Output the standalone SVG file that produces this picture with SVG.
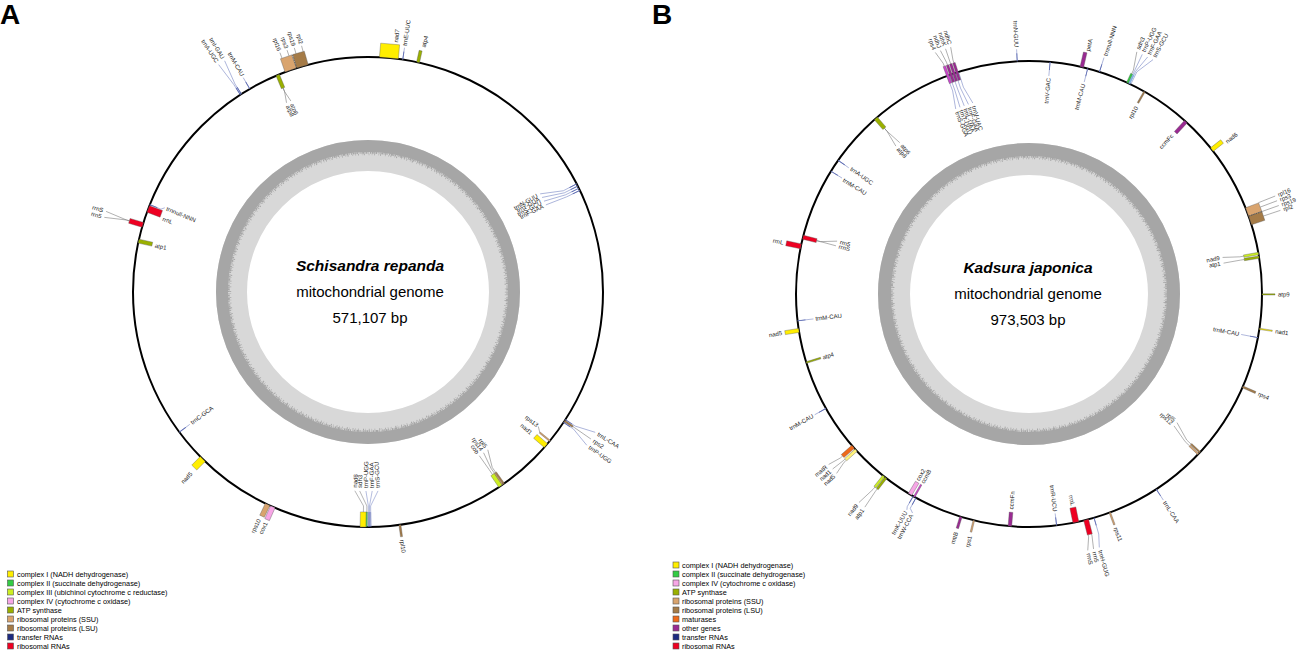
<svg xmlns="http://www.w3.org/2000/svg" width="1304" height="653" viewBox="0 0 1304 653">
<style>
.t{font-family:"Liberation Sans",Arial,sans-serif;font-size:6px;fill:#222;dominant-baseline:central}
.s{text-anchor:start}.e{text-anchor:end}
.ld{fill:none;stroke:#6f6f6f;stroke-width:0.5}
.lt{fill:none;stroke:#7886c4;stroke-width:0.55}
.c1,.c2,.c3,.c4,.atp,.ssu,.lsu,.mat,.oth,.mag,.rrna,.pal{stroke:#555;stroke-width:0.35}
.c1{fill:#ffee00}.c2{fill:#33cc44}.c3{fill:#ccee22}.c4{fill:#f7a6e6}.atp{fill:#9ab000}.ssu{fill:#d9a46e}.lsu{fill:#a57b47}.mat{fill:#ee6a1a}.oth{fill:#9a2a92}.mag{fill:#cc44cc}.trna{fill:#5a68b0;stroke:none}.rrna{fill:#ee0022}.pal{fill:#fff27a}
.dash{fill:none;stroke:#333;stroke-width:0.5;stroke-dasharray:1.5 1}
.ring{fill:none;stroke:#000;stroke-width:2}
.lg{fill:none;stroke:#d8d8d8}
.dg{fill:none;stroke:#a6a6a6}
.ctr{font-family:"Liberation Sans",Arial,sans-serif;font-size:15px;fill:#000;text-anchor:middle}
.sp{font-weight:bold;font-style:italic;font-size:15.5px}
.leg{font-family:"Liberation Sans",Arial,sans-serif;font-size:7.3px;fill:#000;dominant-baseline:central}
.sq{stroke:#555;stroke-width:0.6}
.pl{font-family:"Liberation Sans",Arial,sans-serif;font-size:28px;font-weight:bold;fill:#000}
</style>
<rect width="1304" height="653" fill="#fff"/>
<text class="pl" x="0" y="24">A</text>
<text class="pl" x="652" y="24">B</text>

<!-- Panel A base -->
<g id="A-map">
<circle class="lg" cx="368" cy="292" r="136.5" stroke-width="31"/>
<circle class="dg" cx="368" cy="292" r="146" stroke-width="12"/>
<circle class="dg" cx="368" cy="292" r="139.3" stroke-width="2" stroke-dasharray="0.8 0.6 1.4 0.9 0.5 1.2 1 0.7 2 0.5"/>
<circle class="dg" cx="368" cy="292" r="137.6" stroke-width="1.6" stroke-dasharray="0.5 2 0.8 3 0.4 1.5 1 4 0.6 2.5"/>
<circle class="ring" cx="368" cy="292" r="235"/>
<text class="ctr sp" x="370" y="270.5">Schisandra repanda</text>
<text class="ctr" x="370" y="297">mitochondrial genome</text>
<text class="ctr" x="370" y="323">571,107 bp</text>
</g>

<!-- Panel B base -->
<g id="B-map">
<circle class="lg" cx="1029" cy="294" r="135" stroke-width="32"/>
<circle class="dg" cx="1029" cy="294" r="144.5" stroke-width="13"/>
<circle class="dg" cx="1029" cy="294" r="137.3" stroke-width="2" stroke-dasharray="0.8 0.6 1.4 0.9 0.5 1.2 1 0.7 2 0.5"/>
<circle class="dg" cx="1029" cy="294" r="135.6" stroke-width="1.6" stroke-dasharray="0.5 2 0.8 3 0.4 1.5 1 4 0.6 2.5"/>
<circle class="ring" cx="1029" cy="294" r="233"/>
<text class="ctr sp" x="1028" y="272.5">Kadsura japonica</text>
<text class="ctr" x="1028" y="298.5">mitochondrial genome</text>
<text class="ctr" x="1028" y="324.5">973,503 bp</text>
</g>

<g id="connectors">
<!-- A -->
<path class="lt" transform="rotate(327.4 368 292)" d="M368,57V45L371.8,20"/>
<path class="lt" transform="rotate(327.1 368 292)" d="M368,57V45L366.1,20"/>
<path class="lt" transform="rotate(329.8 368 292)" d="M368,57V44"/>
<path class="ld" transform="rotate(337.4 368 292)" d="M368,71V75L365.5,86"/>
<path class="ld" transform="rotate(337.4 368 292)" d="M368,71V75L370.2,86"/>
<path class="ld" transform="rotate(339.8 368 292)" d="M368,43V37"/>
<path class="ld" transform="rotate(341.5 368 292)" d="M368,43V37"/>
<path class="ld" transform="rotate(343.2 368 292)" d="M368,43V37"/>
<path class="ld" transform="rotate(344.9 368 292)" d="M368,43V37"/>
<path class="lt" transform="rotate(8.5 368 292)" d="M368,57V45"/>
<path class="lt" transform="rotate(291.8 368 292)" d="M368,57V69L370.7,72"/>
<path class="ld" transform="rotate(286.6 368 292)" d="M368,43V40L370.4,18"/>
<path class="ld" transform="rotate(286.6 368 292)" d="M368,43V40L364.2,18"/>
<path class="lt" transform="rotate(233.4 368 292)" d="M368,57V70"/>
<path class="ld" transform="rotate(181.2 368 292)" d="M368,72V78L377,93"/>
<path class="ld" transform="rotate(180.3 368 292)" d="M368,72V78L375.3,93"/>
<path class="lt" transform="rotate(179.9 368 292)" d="M368,57V78L370.4,93"/>
<path class="lt" transform="rotate(179.6 368 292)" d="M368,57V78L365.2,93"/>
<path class="lt" transform="rotate(179.3 368 292)" d="M368,57V78L360.4,93"/>
<path class="lt" transform="rotate(62.6 368 292)" d="M368,57V72L360.1,94"/>
<path class="lt" transform="rotate(63.2 368 292)" d="M368,57V72L362.1,94"/>
<path class="lt" transform="rotate(63.8 368 292)" d="M368,57V72L364.2,94"/>
<path class="lt" transform="rotate(64.4 368 292)" d="M368,57V72L366.3,94"/>
<path class="lt" transform="rotate(122.9 368 292)" d="M368,57V45L362.4,25"/>
<path class="ld" transform="rotate(123.3 368 292)" d="M368,47V45L368.5,25"/>
<path class="lt" transform="rotate(123.7 368 292)" d="M368,57V45L374.1,25"/>
<path class="ld" transform="rotate(129.3 368 292)" d="M368,70L364.2,75"/>
<path class="ld" transform="rotate(144.7 368 292)" d="M368,71V77L361.4,94"/>
<path class="ld" transform="rotate(145.1 368 292)" d="M368,71V77L365.2,94"/>
<path class="ld" transform="rotate(145.7 368 292)" d="M368,71V77L368.3,94"/>
<!-- B -->
<path class="ld" transform="rotate(339.6 1029 294)" d="M1029,51V48L1025.4,35"/>
<path class="ld" transform="rotate(340.4 1029 294)" d="M1029,51V48L1027.2,35"/>
<path class="ld" transform="rotate(341.2 1029 294)" d="M1029,51V48L1029,35"/>
<path class="ld" transform="rotate(342 1029 294)" d="M1029,51V48L1030.8,35"/>
<path class="lt" transform="rotate(339.4 1029 294)" d="M1029,61V77L1025.5,95"/>
<path class="lt" transform="rotate(340 1029 294)" d="M1029,61V77L1028,95"/>
<path class="lt" transform="rotate(340.8 1029 294)" d="M1029,61V77L1029.7,95"/>
<path class="lt" transform="rotate(341.6 1029 294)" d="M1029,61V77L1031.4,95"/>
<path class="lt" transform="rotate(342.4 1029 294)" d="M1029,61V77L1033.2,95"/>
<path class="lt" transform="rotate(357.1 1029 294)" d="M1029,61V49"/>
<path class="lt" transform="rotate(5.2 1029 294)" d="M1029,61V75"/>
<path class="lt" transform="rotate(14.6 1029 294)" d="M1029,61V75"/>
<path class="lt" transform="rotate(17.6 1029 294)" d="M1029,61V46"/>
<path class="ld" transform="rotate(25 1029 294)" d="M1029,51V47L1024.4,29"/>
<path class="lt" transform="rotate(25.3 1029 294)" d="M1029,61V47L1029,29"/>
<path class="lt" transform="rotate(25.6 1029 294)" d="M1029,61V47L1033.6,29"/>
<path class="lt" transform="rotate(25.9 1029 294)" d="M1029,61V47L1038.2,29"/>
<path class="ld" transform="rotate(68.3 1029 294)" d="M1029,47V29"/>
<path class="ld" transform="rotate(69.4 1029 294)" d="M1029,47V29"/>
<path class="ld" transform="rotate(70.5 1029 294)" d="M1029,47V29"/>
<path class="ld" transform="rotate(71.6 1029 294)" d="M1029,47V29"/>
<path class="ld" transform="rotate(80 1029 294)" d="M1029,76V80L1026.6,97"/>
<path class="ld" transform="rotate(80.9 1029 294)" d="M1029,76V80L1029.3,97"/>
<path class="lt" transform="rotate(100.8 1029 294)" d="M1029,61V78"/>
<path class="ld" transform="rotate(132.8 1029 294)" d="M1029,73V79L1022.8,98"/>
<path class="ld" transform="rotate(133.4 1029 294)" d="M1029,73V79L1025.2,98"/>
<path class="lt" transform="rotate(146.9 1029 294)" d="M1029,61V48"/>
<path class="lt" transform="rotate(163.8 1029 294)" d="M1029,61V44L1032.2,31"/>
<path class="ld" transform="rotate(165.4 1029 294)" d="M1029,46V44L1030.8,31"/>
<path class="ld" transform="rotate(166.2 1029 294)" d="M1029,46V44L1033.1,31"/>
<path class="lt" transform="rotate(173.2 1029 294)" d="M1029,61V73"/>
<path class="lt" transform="rotate(209.8 1029 294)" d="M1029,61V49L1027.7,46"/>
<path class="lt" transform="rotate(209 1029 294)" d="M1029,61V49L1024.7,46"/>
<path class="ld" transform="rotate(218.6 1029 294)" d="M1029,47V44L1031.8,25"/>
<path class="ld" transform="rotate(217.9 1029 294)" d="M1029,47V44L1027.6,25"/>
<path class="ld" transform="rotate(229 1029 294)" d="M1029,47V44L1031.8,31"/>
<path class="ld" transform="rotate(228.1 1029 294)" d="M1029,47V44L1029.9,31"/>
<path class="ld" transform="rotate(227.7 1029 294)" d="M1029,47V44L1025.8,31"/>
<path class="lt" transform="rotate(240.6 1029 294)" d="M1029,61V48"/>
<path class="lt" transform="rotate(263.4 1029 294)" d="M1029,61V77"/>
<path class="ld" transform="rotate(284.1 1029 294)" d="M1029,75V79L1033.5,95"/>
<path class="ld" transform="rotate(284.1 1029 294)" d="M1029,75V79L1028.7,95"/>
<path class="lt" transform="rotate(305 1029 294)" d="M1029,61V74"/>
<path class="lt" transform="rotate(301.8 1029 294)" d="M1029,61V74"/>
<path class="ld" transform="rotate(318.9 1029 294)" d="M1029,74V78L1025.9,95"/>
<path class="ld" transform="rotate(318.9 1029 294)" d="M1029,74V78L1031.1,95"/>
</g>

<!-- ===== Panel A nodes ===== -->
<g id="A-trnI-trnA">
<rect class="trna" transform="rotate(327.4 368 292)" x="367.6" y="49" width="0.8" height="8"/>
<rect class="trna" transform="rotate(327.1 368 292)" x="367.6" y="49" width="0.8" height="8"/>
<text class="t e" transform="rotate(328.2 368 292) translate(368 17) rotate(90)">trnI-GAU</text>
<text class="t e" transform="rotate(326.7 368 292) translate(368 17) rotate(90)">trnA-UGC</text>
</g>
<g id="A-trnM-CAU">
<rect class="trna" transform="rotate(329.8 368 292)" x="367.6" y="49" width="0.8" height="8"/>
<text class="t e" transform="rotate(329.9 368 292) translate(368 42) rotate(90)">trnM-CAU</text>
</g>
<g id="A-atp8-atp6">
<rect class="atp" transform="rotate(337.4 368 292)" x="366.2" y="57" width="3.6" height="14"/>
<text class="t s" transform="rotate(336.7 368 292) translate(368 89) rotate(90)">atp8</text>
<text class="t s" transform="rotate(338 368 292) translate(368 89) rotate(90)">atp6</text>
</g>
<g id="A-rpl16-rpl2">
<rect class="ssu" transform="rotate(340.8 368 292)" x="362" y="43" width="12" height="14"/>
<rect class="lsu" transform="rotate(343.8 368 292)" x="362" y="43" width="12" height="14"/>
<path class="dash" transform="rotate(342.3 368 292)" d="M368,57V43"/>
<text class="t e" transform="rotate(339.8 368 292) translate(368 35) rotate(90)">rpl16</text>
<text class="t e" transform="rotate(341.5 368 292) translate(368 35) rotate(90)">rps3</text>
<text class="t e" transform="rotate(343.2 368 292) translate(368 35) rotate(90)">rps19</text>
<text class="t e" transform="rotate(344.9 368 292) translate(368 35) rotate(90)">rpl2</text>
</g>
<g id="A-nad7">
<rect class="c1" transform="rotate(5.1 368 292)" x="358.5" y="43" width="19" height="14"/>
<text class="t s" transform="rotate(6.4 368 292) translate(368 41) rotate(-90)">nad7</text>
</g>
<g id="A-trnE-UUC">
<rect class="trna" transform="rotate(8.5 368 292)" x="367.6" y="49" width="0.8" height="8"/>
<text class="t s" transform="rotate(8.5 368 292) translate(368 43) rotate(-90)">trnE-UUC</text>
</g>
<g id="A-atp4">
<rect class="atp" transform="rotate(12.3 368 292)" x="366.5" y="45" width="3" height="12"/>
<text class="t s" transform="rotate(12.8 368 292) translate(368 41) rotate(-90)">atp4</text>
</g>
<g id="A-trnnull">
<rect class="trna" transform="rotate(291.8 368 292)" x="367.6" y="57" width="0.8" height="8"/>
<text class="t s" transform="rotate(292.5 368 292) translate(368 74) rotate(90)">trnnull-NNN</text>
</g>
<g id="A-rrnL">
<rect class="rrna" transform="rotate(290.7 368 292)" x="364.5" y="57" width="7" height="14"/>
<text class="t s" transform="rotate(289.6 368 292) translate(368 74) rotate(90)">rrnL</text>
</g>
<g id="A-rrn5-rrnS">
<rect class="rrna" transform="rotate(286.6 368 292)" x="365.5" y="43" width="5" height="14"/>
<text class="t e" transform="rotate(287.1 368 292) translate(368 15) rotate(90)">rrnS</text>
<text class="t e" transform="rotate(285.8 368 292) translate(368 15) rotate(90)">rrn5</text>
</g>
<g id="A-atp1">
<rect class="atp" transform="rotate(282.5 368 292)" x="366" y="57" width="4" height="14"/>
<text class="t s" transform="rotate(282.3 368 292) translate(368 74) rotate(90)">atp1</text>
</g>
<g id="A-trnC-GCA">
<rect class="trna" transform="rotate(233.4 368 292)" x="367.6" y="57" width="0.8" height="8"/>
<text class="t s" transform="rotate(233.4 368 292) translate(368 72) rotate(90)">trnC-GCA</text>
</g>
<g id="A-nad5">
<rect class="c1" transform="rotate(224.7 368 292)" x="364.5" y="45" width="7" height="12"/>
<text class="t e" transform="rotate(224.3 368 292) translate(368 39) rotate(90)">nad5</text>
</g>
<g id="A-rps10-cox1">
<rect class="ssu" transform="rotate(205.3 368 292)" x="365.5" y="44" width="5" height="13"/>
<rect class="c4" transform="rotate(203.9 368 292)" x="365.5" y="43" width="5" height="14"/>
<text class="t e" transform="rotate(205.6 368 292) translate(368 40) rotate(90)">rps10</text>
<text class="t e" transform="rotate(203.9 368 292) translate(368 40) rotate(90)">cox1</text>
</g>
<g id="A-nad6-group">
<rect class="c1" transform="rotate(181.2 368 292)" x="365" y="57" width="6" height="15"/>
<rect class="c2" transform="rotate(180.3 368 292)" x="367.4" y="57" width="1.2" height="15"/>
<rect class="trna" transform="rotate(179.9 368 292)" x="367.6" y="57" width="0.8" height="15" fill-opacity="0.6"/>
<rect class="trna" transform="rotate(179.6 368 292)" x="367.6" y="57" width="0.8" height="15" fill-opacity="0.6"/>
<rect class="trna" transform="rotate(179.3 368 292)" x="367.6" y="57" width="0.8" height="15" fill-opacity="0.6"/>
<text class="t s" transform="rotate(183.8 368 292) translate(368 96) rotate(90)">nad6</text>
<text class="t s" transform="rotate(182.4 368 292) translate(368 96) rotate(90)">sdh3</text>
<text class="t s" transform="rotate(180.6 368 292) translate(368 96) rotate(90)">trnP-UGG</text>
<text class="t s" transform="rotate(178.8 368 292) translate(368 96) rotate(90)">trnF-GAA</text>
<text class="t s" transform="rotate(177.1 368 292) translate(368 96) rotate(90)">trnS-GCU</text>
</g>
<g id="A-rpl10">
<rect class="lsu" transform="rotate(172.2 368 292)" x="367" y="45" width="2" height="12"/>
<text class="t s" transform="rotate(172.2 368 292) translate(368 42) rotate(-90)">rpl10</text>
</g>
<g id="A-trnN-group">
<rect class="trna" transform="rotate(62.6 368 292)" x="367.6" y="57" width="0.8" height="8"/>
<rect class="trna" transform="rotate(63.2 368 292)" x="367.6" y="57" width="0.8" height="8"/>
<rect class="trna" transform="rotate(63.8 368 292)" x="367.6" y="57" width="0.8" height="8"/>
<rect class="trna" transform="rotate(64.4 368 292)" x="367.6" y="57" width="0.8" height="8"/>
<text class="t e" transform="rotate(60.3 368 292) translate(368 97) rotate(-90)">trnN-GUU</text>
<text class="t e" transform="rotate(61.5 368 292) translate(368 97) rotate(-90)">trnY-GUA</text>
<text class="t e" transform="rotate(62.7 368 292) translate(368 97) rotate(-90)">trnS-GCU</text>
<text class="t e" transform="rotate(63.9 368 292) translate(368 97) rotate(-90)">trnF-GAA</text>
</g>
<g id="A-trnL-group">
<rect class="trna" transform="rotate(122.9 368 292)" x="367.6" y="49" width="0.8" height="8"/>
<rect class="lsu" transform="rotate(123.3 368 292)" x="367.2" y="47" width="1.6" height="10"/>
<rect class="trna" transform="rotate(123.7 368 292)" x="367.6" y="49" width="0.8" height="8"/>
<text class="t s" transform="rotate(121.7 368 292) translate(368 22) rotate(-90)">trnL-CAA</text>
<text class="t s" transform="rotate(123.4 368 292) translate(368 22) rotate(-90)">rps2</text>
<text class="t s" transform="rotate(125 368 292) translate(368 22) rotate(-90)">trnP-UGG</text>
</g>
<g id="A-rps13-nad1">
<rect class="ssu" transform="rotate(129.3 368 292)" x="367.3" y="57" width="1.4" height="13"/>
<rect class="c1" transform="rotate(130.8 368 292)" x="365.5" y="57" width="5" height="14"/>
<text class="t e" transform="rotate(128.3 368 292) translate(368 76) rotate(-90)">rps13</text>
<text class="t e" transform="rotate(130.9 368 292) translate(368 76) rotate(-90)">nad1</text>
</g>
<g id="A-cob-group">
<rect class="lsu" transform="rotate(144.7 368 292)" x="367.2" y="57" width="1.6" height="14"/>
<rect class="ssu" transform="rotate(145.1 368 292)" x="367.3" y="57" width="1.4" height="14"/>
<rect class="c3" transform="rotate(145.7 368 292)" x="366" y="57" width="4" height="14"/>
<text class="t e" transform="rotate(142.8 368 292) translate(368 97) rotate(-90)">rpl5</text>
<text class="t e" transform="rotate(144.3 368 292) translate(368 97) rotate(-90)">rps14</text>
<text class="t e" transform="rotate(145.8 368 292) translate(368 97) rotate(-90)">cob</text>
</g>

<!-- ===== Panel B nodes ===== -->
<g id="B-rps4-ndh-group">
<rect class="mag" transform="rotate(339.6 1029 294)" x="1027.75" y="51" width="2.5" height="18"/>
<rect class="oth" transform="rotate(340.4 1029 294)" x="1027.75" y="51" width="2.5" height="18"/>
<rect class="oth" transform="rotate(341.2 1029 294)" x="1027.75" y="51" width="2.5" height="18"/>
<rect class="oth" transform="rotate(342 1029 294)" x="1027.75" y="51" width="2.5" height="18"/>
<text class="t e" transform="rotate(338.8 1029 294) translate(1029 32) rotate(90)">rps4</text>
<text class="t e" transform="rotate(340 1029 294) translate(1029 32) rotate(90)">ndhJ</text>
<text class="t e" transform="rotate(341.2 1029 294) translate(1029 32) rotate(90)">ndhK</text>
<text class="t e" transform="rotate(342.4 1029 294) translate(1029 32) rotate(90)">ndhC</text>
<text class="t s" transform="rotate(338.4 1029 294) translate(1029 98) rotate(90)">trnS-GGA</text>
<text class="t s" transform="rotate(339.7 1029 294) translate(1029 98) rotate(90)">trnT-UGU</text>
<text class="t s" transform="rotate(341 1029 294) translate(1029 98) rotate(90)">trnL-UAA</text>
<text class="t s" transform="rotate(342.3 1029 294) translate(1029 98) rotate(90)">trnF-GAA</text>
<text class="t s" transform="rotate(343.6 1029 294) translate(1029 98) rotate(90)">trnV-UAC</text>
</g>
<g id="B-trnN-GUU">
<rect class="trna" transform="rotate(357.1 1029 294)" x="1028.6" y="53" width="0.8" height="8"/>
<text class="t e" transform="rotate(357.1 1029 294) translate(1029 47) rotate(90)">trnN-GUU</text>
</g>
<g id="B-trnV-GAC">
<rect class="trna" transform="rotate(5.2 1029 294)" x="1028.6" y="61" width="0.8" height="8"/>
<text class="t e" transform="rotate(5.2 1029 294) translate(1029 77) rotate(-90)">trnV-GAC</text>
</g>
<g id="B-petA">
<rect class="oth" transform="rotate(13.1 1029 294)" x="1027.2" y="46" width="3.6" height="15"/>
<text class="t s" transform="rotate(13.6 1029 294) translate(1029 44) rotate(-90)">petA</text>
</g>
<g id="B-trnM-CAU-1">
<rect class="trna" transform="rotate(14.6 1029 294)" x="1028.6" y="61" width="0.8" height="8"/>
<text class="t e" transform="rotate(14.5 1029 294) translate(1029 77) rotate(-90)">trnM-CAU</text>
</g>
<g id="B-trnnull">
<rect class="trna" transform="rotate(17.6 1029 294)" x="1028.6" y="53" width="0.8" height="8"/>
<text class="t s" transform="rotate(17.8 1029 294) translate(1029 44) rotate(-90)">trnnull-NNN</text>
</g>
<g id="B-sdh3-group">
<rect class="c2" transform="rotate(25 1029 294)" x="1028" y="51" width="2" height="10"/>
<rect fill="#7fb2e0" transform="rotate(25.5 1029 294)" x="1028.2" y="51" width="1.6" height="10"/>
<text class="t s" transform="rotate(24 1029 294) translate(1029 26) rotate(-90)">sdh3</text>
<text class="t s" transform="rotate(25.3 1029 294) translate(1029 26) rotate(-90)">trnP-UGG</text>
<text class="t s" transform="rotate(26.6 1029 294) translate(1029 26) rotate(-90)">trnF-GAA</text>
<text class="t s" transform="rotate(27.9 1029 294) translate(1029 26) rotate(-90)">trnS-GCU</text>
</g>
<g id="B-rpl10">
<rect class="lsu" transform="rotate(29.7 1029 294)" x="1028.2" y="61" width="1.6" height="13"/>
<text class="t e" transform="rotate(29.9 1029 294) translate(1029 78) rotate(-90)">rpl10</text>
</g>
<g id="B-ccmFc">
<rect class="oth" transform="rotate(42.3 1029 294)" x="1027.2" y="61" width="3.6" height="15"/>
<text class="t e" transform="rotate(42 1029 294) translate(1029 80) rotate(-90)">ccmFc</text>
</g>
<g id="B-nad6">
<rect class="c1" transform="rotate(51.7 1029 294)" x="1026.8" y="48" width="4.4" height="13"/>
<text class="t s" transform="rotate(52.4 1029 294) translate(1029 45) rotate(-90)">nad6</text>
</g>
<g id="B-rpl16-rpl2">
<rect class="ssu" transform="rotate(69.4 1029 294)" x="1024.5" y="47" width="9" height="14"/>
<rect class="lsu" transform="rotate(71.6 1029 294)" x="1024.5" y="47" width="9" height="14"/>
<path class="dash" transform="rotate(70.5 1029 294)" d="M1029,61V47"/>
<text class="t s" transform="rotate(68.3 1029 294) translate(1029 26) rotate(-90)">rpl16</text>
<text class="t s" transform="rotate(69.4 1029 294) translate(1029 26) rotate(-90)">rps3</text>
<text class="t s" transform="rotate(70.5 1029 294) translate(1029 26) rotate(-90)">rps19</text>
<text class="t s" transform="rotate(71.6 1029 294) translate(1029 26) rotate(-90)">rpl2</text>
</g>
<g id="B-nad9-atp1-1">
<rect class="c3" transform="rotate(80 1029 294)" x="1027.8" y="61" width="2.4" height="15"/>
<rect class="atp" transform="rotate(80.9 1029 294)" x="1027.8" y="61" width="2.4" height="15"/>
<text class="t e" transform="rotate(79.3 1029 294) translate(1029 100) rotate(-90)">nad9</text>
<text class="t e" transform="rotate(81 1029 294) translate(1029 100) rotate(-90)">atp1</text>
</g>
<g id="B-atp9">
<rect class="atp" transform="rotate(90.1 1029 294)" x="1028.4" y="48" width="1.2" height="13"/>
<text class="t s" transform="rotate(90.1 1029 294) translate(1029 45) rotate(-90)">atp9</text>
</g>
<g id="B-nad1">
<rect class="c1" transform="rotate(98.6 1029 294)" x="1028.4" y="48" width="1.2" height="13"/>
<text class="t s" transform="rotate(98.6 1029 294) translate(1029 45) rotate(-90)">nad1</text>
</g>
<g id="B-trnM-CAU-2">
<rect class="trna" transform="rotate(100.8 1029 294)" x="1028.6" y="61" width="0.8" height="8"/>
<text class="t e" transform="rotate(100.8 1029 294) translate(1029 80) rotate(-90)">trnM-CAU</text>
</g>
<g id="B-rps4">
<rect class="lsu" transform="rotate(113.5 1029 294)" x="1028" y="47" width="2" height="14"/>
<text class="t s" transform="rotate(113.5 1029 294) translate(1029 44) rotate(-90)">rps4</text>
</g>
<g id="B-rpl5-rps12">
<rect class="lsu" transform="rotate(132.8 1029 294)" x="1028.2" y="61" width="1.6" height="12"/>
<rect class="ssu" transform="rotate(133.4 1029 294)" x="1028.2" y="61" width="1.6" height="12"/>
<text class="t e" transform="rotate(131 1029 294) translate(1029 101) rotate(-90)">rpl5</text>
<text class="t e" transform="rotate(132.3 1029 294) translate(1029 101) rotate(-90)">rps12</text>
</g>
<g id="B-trnL-CAA">
<rect class="trna" transform="rotate(146.9 1029 294)" x="1028.6" y="53" width="0.8" height="8"/>
<text class="t s" transform="rotate(146.9 1029 294) translate(1029 46) rotate(-90)">trnL-CAA</text>
</g>
<g id="B-rps11">
<rect class="ssu" transform="rotate(159.7 1029 294)" x="1028.2" y="48" width="1.6" height="13"/>
<text class="t s" transform="rotate(159.7 1029 294) translate(1029 45) rotate(-90)">rps11</text>
</g>
<g id="B-trnH-rrn5-rrnS">
<rect class="trna" transform="rotate(163.8 1029 294)" x="1028.6" y="53" width="0.8" height="8"/>
<rect class="rrna" transform="rotate(165.8 1029 294)" x="1026.5" y="46" width="5" height="15"/>
<text class="t s" transform="rotate(164.5 1029 294) translate(1029 28) rotate(-90)">trnH-GUG</text>
<text class="t s" transform="rotate(165.8 1029 294) translate(1029 28) rotate(-90)">rrn5</text>
<text class="t s" transform="rotate(167.1 1029 294) translate(1029 28) rotate(-90)">rrnS</text>
</g>
<g id="B-rrnL-2">
<rect class="rrna" transform="rotate(168.4 1029 294)" x="1026" y="61" width="6" height="15"/>
<text class="t e" transform="rotate(168.3 1029 294) translate(1029 78) rotate(-90)">rrnL</text>
</g>
<g id="B-trnR-UCU">
<rect class="trna" transform="rotate(173.2 1029 294)" x="1028.6" y="61" width="0.8" height="8"/>
<text class="t e" transform="rotate(173.2 1029 294) translate(1029 75) rotate(-90)">trnR-UCU</text>
</g>
<g id="B-ccmFn">
<rect class="oth" transform="rotate(184.7 1029 294)" x="1027.2" y="61" width="3.6" height="14"/>
<text class="t s" transform="rotate(184.7 1029 294) translate(1029 78) rotate(90)">ccmFn</text>
</g>
<g id="B-rps1">
<rect class="ssu" transform="rotate(193.7 1029 294)" x="1028.2" y="49" width="1.6" height="12"/>
<text class="t e" transform="rotate(193.7 1029 294) translate(1029 45) rotate(90)">rps1</text>
</g>
<g id="B-mttB">
<rect class="oth" transform="rotate(197 1029 294)" x="1027.8" y="49" width="2.4" height="12"/>
<text class="t e" transform="rotate(197 1029 294) translate(1029 45) rotate(90)">mttB</text>
</g>
<g id="B-cox2-ccmB">
<rect class="c4" transform="rotate(210.7 1029 294)" x="1027" y="61" width="4" height="14"/>
<rect class="mag" transform="rotate(209.5 1029 294)" x="1028.2" y="61" width="1.6" height="14"/>
<text class="t s" transform="rotate(210.9 1029 294) translate(1029 77) rotate(90)">cox2</text>
<text class="t s" transform="rotate(209.4 1029 294) translate(1029 77) rotate(90)">ccmB</text>
</g>
<g id="B-trnK-trnW">
<rect class="trna" transform="rotate(209.8 1029 294)" x="1028.6" y="53" width="0.8" height="8"/>
<rect class="trna" transform="rotate(209 1029 294)" x="1028.6" y="53" width="0.8" height="8"/>
<text class="t e" transform="rotate(209.5 1029 294) translate(1029 44) rotate(90)">trnK-UUU</text>
<text class="t e" transform="rotate(208 1029 294) translate(1029 44) rotate(90)">trnW-CCA</text>
</g>
<g id="B-nad9-atp1-2">
<rect class="c3" transform="rotate(218.6 1029 294)" x="1027.8" y="47" width="2.4" height="14"/>
<rect class="atp" transform="rotate(217.9 1029 294)" x="1027.8" y="47" width="2.4" height="14"/>
<text class="t e" transform="rotate(219.2 1029 294) translate(1029 22) rotate(90)">nad9</text>
<text class="t e" transform="rotate(217.6 1029 294) translate(1029 22) rotate(90)">atp1</text>
</g>
<g id="B-matR-group">
<rect class="mat" transform="rotate(229 1029 294)" x="1027" y="47" width="4" height="14"/>
<rect class="pal" transform="rotate(227.9 1029 294)" x="1027.5" y="47" width="3" height="14"/>
<text class="t e" transform="rotate(229.6 1029 294) translate(1029 28) rotate(90)">matR</text>
<text class="t e" transform="rotate(228.3 1029 294) translate(1029 28) rotate(90)">nad1</text>
<text class="t e" transform="rotate(227 1029 294) translate(1029 28) rotate(90)">nad5</text>
</g>
<g id="B-trnM-CAU-3">
<rect class="trna" transform="rotate(240.6 1029 294)" x="1028.6" y="53" width="0.8" height="8"/>
<text class="t e" transform="rotate(240.6 1029 294) translate(1029 46) rotate(90)">trnM-CAU</text>
</g>
<g id="B-atp4">
<rect class="atp" transform="rotate(252.9 1029 294)" x="1028.2" y="61" width="1.6" height="15"/>
<text class="t s" transform="rotate(252.9 1029 294) translate(1029 78) rotate(90)">atp4</text>
</g>
<g id="B-nad5">
<rect class="c1" transform="rotate(261 1029 294)" x="1027" y="47" width="4" height="14"/>
<text class="t e" transform="rotate(261 1029 294) translate(1029 44) rotate(90)">nad5</text>
</g>
<g id="B-trnM-CAU-4">
<rect class="trna" transform="rotate(263.4 1029 294)" x="1028.6" y="61" width="0.8" height="8"/>
<text class="t s" transform="rotate(263.4 1029 294) translate(1029 79) rotate(90)">trnM-CAU</text>
</g>
<g id="B-rrnL-1">
<rect class="rrna" transform="rotate(281.8 1029 294)" x="1026.5" y="46" width="5" height="15"/>
<text class="t e" transform="rotate(281.8 1029 294) translate(1029 43) rotate(90)">rrnL</text>
</g>
<g id="B-rrn5-rrnS">
<rect class="rrna" transform="rotate(284.1 1029 294)" x="1027" y="61" width="4" height="14"/>
<text class="t s" transform="rotate(285.4 1029 294) translate(1029 98) rotate(90)">rrn5</text>
<text class="t s" transform="rotate(284 1029 294) translate(1029 98) rotate(90)">rrnS</text>
</g>
<g id="B-trnA-trnM">
<rect class="trna" transform="rotate(305 1029 294)" x="1028.6" y="61" width="0.8" height="8"/>
<rect class="trna" transform="rotate(301.8 1029 294)" x="1028.6" y="61" width="0.8" height="8"/>
<text class="t s" transform="rotate(305.2 1029 294) translate(1029 76) rotate(90)">trnA-UGC</text>
<text class="t s" transform="rotate(301.6 1029 294) translate(1029 76) rotate(90)">trnM-CAU</text>
</g>
<g id="B-atp8-atp6">
<rect class="atp" transform="rotate(318.9 1029 294)" x="1027" y="61" width="4" height="13"/>
<text class="t s" transform="rotate(318 1029 294) translate(1029 98) rotate(90)">atp8</text>
<text class="t s" transform="rotate(319.5 1029 294) translate(1029 98) rotate(90)">atp6</text>
</g>

<!-- Legends -->
<g id="A-legend">
<rect class="sq c1" x="7.5" y="571" width="6" height="6"/><text class="leg" x="17" y="574">complex I (NADH dehydrogenase)</text>
<rect class="sq c2" x="7.5" y="580" width="6" height="6"/><text class="leg" x="17" y="583">complex II (succinate dehydrogenase)</text>
<rect class="sq c3" x="7.5" y="589" width="6" height="6"/><text class="leg" x="17" y="592">complex III (ubichinol cytochrome c reductase)</text>
<rect class="sq c4" x="7.5" y="598" width="6" height="6"/><text class="leg" x="17" y="601">complex IV (cytochrome c oxidase)</text>
<rect class="sq atp" x="7.5" y="607" width="6" height="6"/><text class="leg" x="17" y="610">ATP synthase</text>
<rect class="sq ssu" x="7.5" y="616" width="6" height="6"/><text class="leg" x="17" y="619">ribosomal proteins (SSU)</text>
<rect class="sq lsu" x="7.5" y="625" width="6" height="6"/><text class="leg" x="17" y="628">ribosomal proteins (LSU)</text>
<rect class="sq" fill="#1c2a80" x="7.5" y="634" width="6" height="6"/><text class="leg" x="17" y="637">transfer RNAs</text>
<rect class="sq rrna" x="7.5" y="643" width="6" height="6"/><text class="leg" x="17" y="646">ribosomal RNAs</text>
</g>
<g id="B-legend">
<rect class="sq c1" x="673" y="562" width="6" height="6"/><text class="leg" x="682" y="565">complex I (NADH dehydrogenase)</text>
<rect class="sq c2" x="673" y="571" width="6" height="6"/><text class="leg" x="682" y="574">complex II (succinate dehydrogenase)</text>
<rect class="sq c4" x="673" y="580" width="6" height="6"/><text class="leg" x="682" y="583">complex IV (cytochrome c oxidase)</text>
<rect class="sq atp" x="673" y="589" width="6" height="6"/><text class="leg" x="682" y="592">ATP synthase</text>
<rect class="sq ssu" x="673" y="598" width="6" height="6"/><text class="leg" x="682" y="601">ribosomal proteins (SSU)</text>
<rect class="sq lsu" x="673" y="607" width="6" height="6"/><text class="leg" x="682" y="610">ribosomal proteins (LSU)</text>
<rect class="sq mat" x="673" y="616" width="6" height="6"/><text class="leg" x="682" y="619">maturases</text>
<rect class="sq oth" x="673" y="625" width="6" height="6"/><text class="leg" x="682" y="628">other genes</text>
<rect class="sq" fill="#1c2a80" x="673" y="634" width="6" height="6"/><text class="leg" x="682" y="637">transfer RNAs</text>
<rect class="sq rrna" x="673" y="643" width="6" height="6"/><text class="leg" x="682" y="646">ribosomal RNAs</text>
</g>
</svg>
